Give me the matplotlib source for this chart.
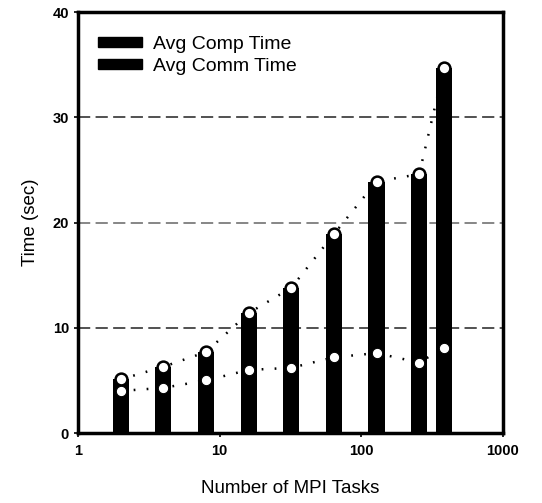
import matplotlib.pyplot as plt
from matplotlib.patches import Patch

tasks = [2, 4, 8, 16, 32, 64, 128, 256, 384]
comm_time = [5.1, 6.3, 7.7, 11.4, 13.8, 18.9, 23.9, 24.6, 34.7]
comp_time = [4.0, 4.3, 5.0, 6.0, 6.2, 7.2, 7.6, 6.7, 8.1]

plt.rcParams["font.family"] = ["Liberation Sans", "DejaVu Sans"]

fig = plt.figure(figsize=(5.42, 5.03), dpi=100)
ax = fig.add_axes([0.144, 0.139, 0.784, 0.837])
ax.set_xscale("log")

# bar width constant in log space
half = 10 ** 0.057
lefts = [t / half for t in tasks]
widths = [t * half - t / half for t in tasks]

ax.bar(lefts, comm_time, width=widths, align="edge", color="black", zorder=2)
ax.bar(lefts, comp_time, width=widths, align="edge", color="black", zorder=2)

ax.plot(tasks, comm_time, color="black", lw=1.8, ls=(0, (0.7, 4.5)), zorder=1)
ax.plot(tasks, comp_time, color="black", lw=1.8, ls=(0, (0.7, 4.5)), zorder=1)
ax.plot(tasks, comm_time, ls="none", marker="o", ms=8.5, mfc="white",
        mec="black", mew=1.8, zorder=3)
ax.plot(tasks, comp_time, ls="none", marker="o", ms=7.5, mfc="white",
        mec="black", mew=0.8, zorder=3)

for yv, c in [(10, "#222222"), (20, "#666666"), (30, "#222222")]:
    ax.axhline(yv, color=c, lw=1.1, ls=(0, (8, 3.5)), zorder=0)

ax.set_xlim(1, 1000)
ax.set_ylim(0, 40)
ax.set_yticks([0, 10, 20, 30, 40])
ax.set_xticks([1, 10, 100, 1000])
ax.set_xticklabels(["1", "10", "100", "1000"])
ax.minorticks_off()
ax.tick_params(axis="both", labelsize=10.5, length=3, width=1.2, direction="out")
ax.tick_params(axis="x", pad=5)
for lab in ax.get_xticklabels() + ax.get_yticklabels():
    lab.set_fontweight("bold")
for s in ax.spines.values():
    s.set_linewidth(2.5)

ax.set_xlabel("Number of MPI Tasks", fontsize=13.5, labelpad=16)
ax.set_ylabel("Time (sec)", fontsize=13.5, labelpad=10)

handles = [Patch(color="black"), Patch(color="black")]
ax.legend(handles, ["Avg Comp Time", "Avg Comm Time"], loc="upper left",
          bbox_to_anchor=(0.005, 0.985), frameon=False, fontsize=14,
          handlelength=2.3, handleheight=0.45, handletextpad=0.55,
          labelspacing=0.25)

fig.savefig("out.png", dpi=100)
